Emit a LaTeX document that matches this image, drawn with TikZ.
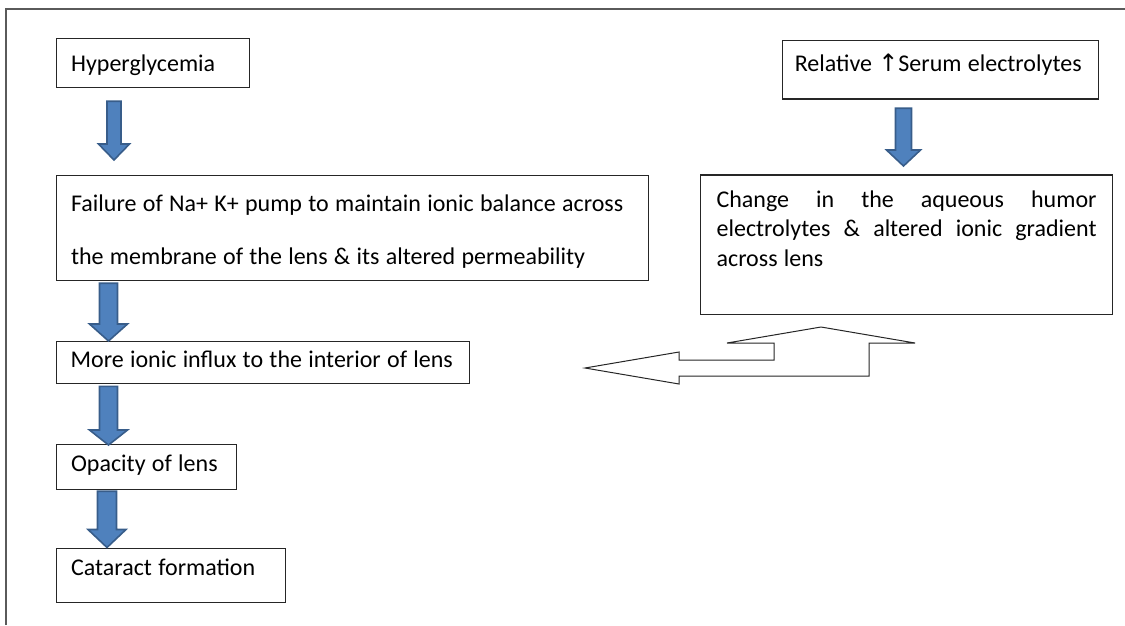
\documentclass[tikz,border=0pt]{standalone}
\usepackage{fontspec}
\setmainfont{Carlito}
\newfontfamily\arrowfont{DejaVu Sans}
\usepackage{xcolor}
\usepackage{tikz}
\usetikzlibrary{calc}

\definecolor{arrowblue}{HTML}{4F81BD}
\definecolor{arrowedge}{HTML}{385D8A}
\definecolor{boxline}{HTML}{262626}
\definecolor{frameline}{HTML}{5A5A5A}

\newcommand{\boxfont}[2]{\fontsize{24}{#1}\selectfont\spaceskip=6.3pt plus #2 minus 2pt\hyphenpenalty=10000\relax}

\tikzset{
  box/.style={draw=boxline, line width=1.2pt, anchor=north west, inner ysep=0pt,
    inner xsep=15pt, align=flush left, font=\boxfont{29.5}{1pt}},
  blockarrow/.style n args={3}{draw=arrowedge, fill=arrowblue, line width=1.6pt, line join=miter,
    to path={let \p1=(\tikztostart), \p2=(\tikztotarget) in
      (\x1-#1pt,\y1) -- (\x1+#1pt,\y1) -- (\x1+#1pt,\y2+#3pt) -- (\x1+#2pt,\y2+#3pt)
      -- (\x2,\y2) -- (\x1-#2pt,\y2+#3pt) -- (\x1-#1pt,\y2+#3pt) -- cycle}},
  hollowarrow/.style={draw=black!85, line width=1pt, line join=miter, fill=white}
}

\begin{document}
\begin{tikzpicture}[x=1pt,y=-1pt]
\useasboundingbox (0,0) rectangle (1125,625);
\draw[frameline, line width=1.5pt] (6,625) -- (6,9) -- (1125,9);

% left column
\node[box, text width=163pt, text height=33pt, text depth=16pt] (hyper) at (55.5,38) {Hyperglycemia};
\node[box, text width=562pt, text height=36.5pt, text depth=69pt, font=\boxfont{53}{1pt}] (failure) at (55.5,174.5)
  {Failure of Na+ K+ pump to maintain ionic balance across\\the membrane of the lens \& its altered permeability};
\node[box, inner xsep=14.5pt, text width=384.5pt, text height=25.7pt, text depth=16.5pt] (influx) at (55.5,341) {More ionic influx to the interior of lens};
\node[box, text width=150.5pt, text height=27pt, text depth=18pt] (opacity) at (55.5,443.5) {Opacity of lens};
\node[box, text width=199pt, text height=27.5pt, text depth=26.5pt] (cataract) at (55.5,547.5) {Cataract formation};

% right column
\node[box, inner xsep=12.5pt, text width=291.3pt, text height=31pt, text depth=27.3pt] (serum) at (781.7,40)
  {Relative {\arrowfont ↑}Serum electrolytes};
\node[box, inner xsep=16pt, align=justify, font=\boxfont{29.5}{20pt}, text width=380pt, text height=32.4pt, text depth=107.3pt] (aqueous) at (700,174.3)
  {Change in the aqueous humor\linebreak electrolytes \& altered ionic gradient\linebreak across lens};

% arrow ends
\coordinate (a1s) at ([xshift=58.5pt,yshift=-13pt]hyper.south west);
\coordinate (a1e) at ([xshift=58.5pt,yshift=14.5pt]failure.north west);
\coordinate (a2s) at ([xshift=53pt,yshift=-2pt]failure.south west);
\coordinate (a2e) at ([xshift=53pt]influx.north west);
\coordinate (a3s) at ([xshift=53pt,yshift=-2pt]influx.south west);
\coordinate (a3e) at ([xshift=53pt,yshift=-1.5pt]opacity.north west);
\coordinate (a4s) at ([xshift=51.5pt,yshift=-1.5pt]opacity.south west);
\coordinate (a4e) at ([xshift=51.5pt]cataract.north west);
\coordinate (a5s) at ([xshift=121.8pt,yshift=-8.7pt]serum.south west);
\coordinate (a5e) at ([xshift=203.5pt,yshift=8.3pt]aqueous.north west);

\draw[blockarrow={7}{15.5}{16}] (a1s) to (a1e);
\draw[blockarrow={9}{19}{17}] (a2s) to (a2e);
\draw[blockarrow={9}{19}{15}] (a3s) to (a3e);
\draw[blockarrow={9.5}{19}{18}] (a4s) to (a4e);
\draw[blockarrow={8}{17}{16}] (a5s) to (a5e);

% bent hollow arrow
\draw[hollowarrow] (585,368) -- (679,352) -- (679,360) -- (774,360) -- (774,343) -- (727,343)
  -- (821,327) -- (915,343) -- (869,343) -- (869,376) -- (679,376) -- (679,384) -- cycle;
\end{tikzpicture}
\end{document}
